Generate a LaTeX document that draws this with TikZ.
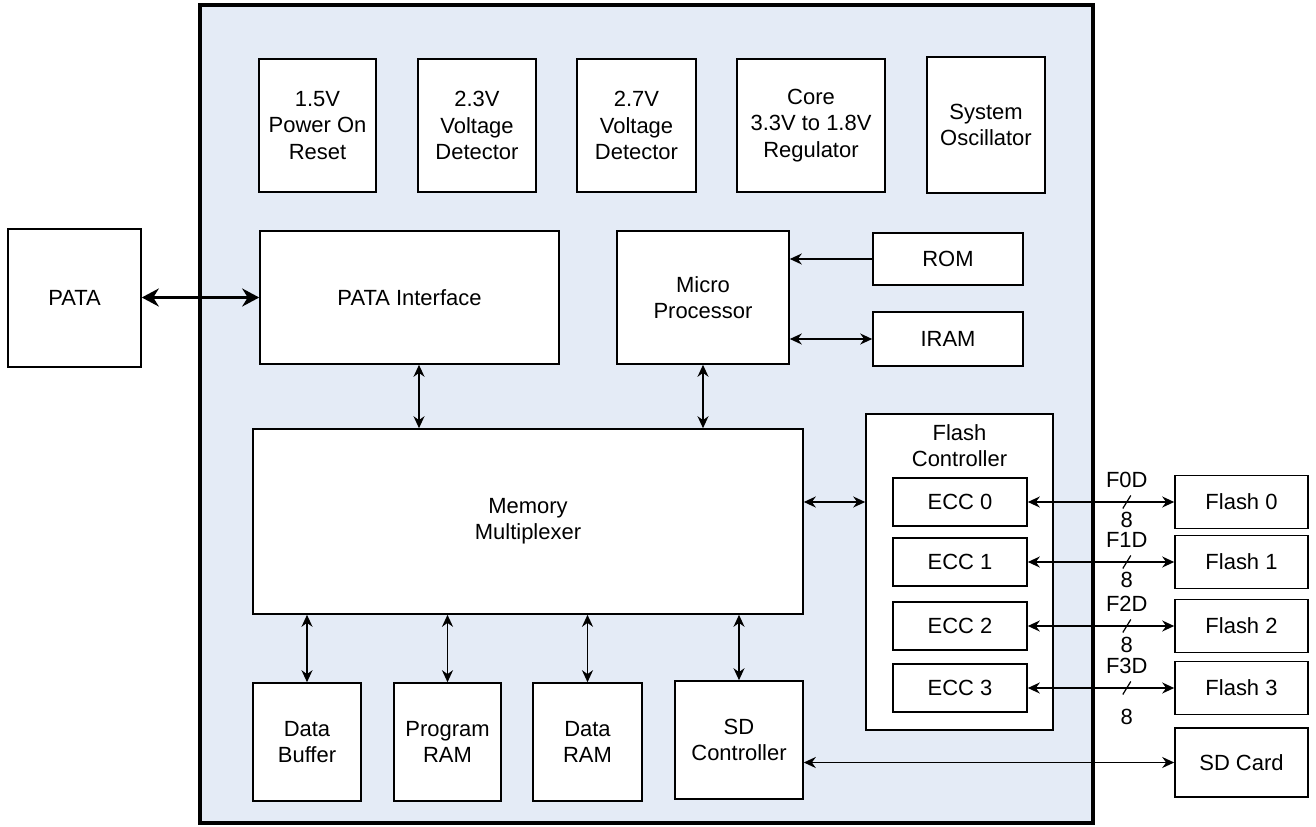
\documentclass[tikz,border=0pt]{standalone}
\usepackage{fontspec}
\setmainfont{Liberation Sans}
\usepackage{tikz}
\usetikzlibrary{arrows.meta,positioning,calc}
\usepackage{xcolor}
\definecolor{chipfill}{RGB}{228,235,246}
\tikzset{
  block/.style   = {draw, line width=0.9pt, fill=white, rectangle, inner sep=0pt,
                    align=center},
  tag/.style     = {inner sep=0pt, align=center},
  link/.style    = {{Stealth[length=2.4mm,width=2.2mm]}-{Stealth[length=2.4mm,width=2.2mm]},
                    line width=1pt},
  feed/.style    = {-{Stealth[length=2.4mm,width=2.2mm]}, line width=1pt},
  hostbus/.style = {{Stealth[length=3.4mm,width=3.6mm]}-{Stealth[length=3.4mm,width=3.6mm]},
                    line width=2pt},
}
\newcommand{\busmark}[4]{%
  \draw[line width=0.7pt] ($(#1)+(-0.08,-0.13)$) -- ($(#1)+(0.08,0.13)$);
  \node[tag] (#1-name) at ($(#1)+(0,0.44)$) {#2};
  \node[tag] (#1-width) at ($(#1)+(0,-#4)$) {#3};}

\begin{document}
\begin{tikzpicture}[x=1cm,y=1cm,font=\fontsize{12.5}{14.9}\selectfont]
\useasboundingbox (0,0) rectangle (26.32,-16.54);
\node[draw, line width=2.8pt, fill=chipfill, minimum width=17.86cm,
      minimum height=16.36cm] (chip) at (12.93,-8.28) {};
% power and clock row
\node[block, minimum width=2.34cm, minimum height=2.66cm] (POR) at (6.35,-2.51) {1.5V\\Power On\\Reset};
\node[block, minimum width=2.36cm, minimum height=2.66cm] (VD23) at (9.54,-2.51) {2.3V\\Voltage\\Detector};
\node[block, minimum width=2.38cm, minimum height=2.66cm] (VD27) at (12.73,-2.51) {2.7V\\Voltage\\Detector};
\node[block, minimum width=2.96cm, minimum height=2.66cm] (REG) at (16.22,-2.51) {Core\\3.3V to 1.8V\\Regulator};
\node[block, minimum width=2.36cm, minimum height=2.72cm] (OSC) at (19.72,-2.50) {System\\Oscillator};
% host side and processor
\node[block, minimum width=2.66cm, minimum height=2.76cm] (PATA) at (1.49,-5.96) {PATA};
\node[block, minimum width=5.98cm, minimum height=2.66cm] (PI) at (8.19,-5.95) {PATA Interface};
\node[block, minimum width=3.44cm, minimum height=2.66cm] (MCU) at (14.06,-5.95) {Micro\\Processor};
\node[block, minimum width=3.00cm, minimum height=1.04cm] (ROM) at (18.96,-5.18) {ROM};
\node[block, minimum width=3.00cm, minimum height=1.08cm] (IRAM) at (18.96,-6.78) {IRAM};
% memory
\node[block, minimum width=11.0cm, minimum height=3.7cm] (MUX) at (10.56,-10.43) {Memory\\Multiplexer};
\node[block, minimum width=2.16cm, minimum height=2.36cm] (DBUF) at (6.14,-14.84) {Data\\Buffer};
\node[block, minimum width=2.14cm, minimum height=2.36cm] (PRAM) at (8.95,-14.84) {Program\\RAM};
\node[block, minimum width=2.18cm, minimum height=2.36cm] (DRAM) at (11.75,-14.84) {Data\\RAM};
\node[block, minimum width=2.56cm, minimum height=2.36cm] (SDCTL) at (14.78,-14.80) {SD\\Controller};
% flash controller
\node[block, minimum width=3.74cm, minimum height=6.32cm] (FC) at (19.19,-11.44) {};
\node[tag, anchor=north] (FCtitle) at ([yshift=-0.22cm]FC.north) {Flash\\Controller};
\node[block, minimum width=2.68cm, minimum height=0.96cm] (ECC0) at (19.20,-10.04) {ECC 0};
\node[block, minimum width=2.68cm, minimum height=0.96cm] (ECC1) at (19.20,-11.24) {ECC 1};
\node[block, minimum width=2.68cm, minimum height=0.96cm] (ECC2) at (19.20,-12.52) {ECC 2};
\node[block, minimum width=2.68cm, minimum height=0.96cm] (ECC3) at (19.20,-13.76) {ECC 3};
% off-chip devices
\node[block, minimum width=2.66cm, minimum height=1.06cm] (FL0) at (24.83,-10.04) {Flash 0};
\node[block, minimum width=2.66cm, minimum height=1.06cm] (FL1) at (24.83,-11.24) {Flash 1};
\node[block, minimum width=2.66cm, minimum height=1.06cm] (FL2) at (24.83,-12.52) {Flash 2};
\node[block, minimum width=2.66cm, minimum height=1.06cm] (FL3) at (24.83,-13.76) {Flash 3};
\node[block, minimum width=2.66cm, minimum height=1.38cm] (SDC) at (24.83,-15.25) {SD Card};
% connections
\draw[hostbus] (PATA.east |- PI) -- (PI.west);
\draw[feed] (ROM.west) -- (ROM.west -| MCU.east);
\draw[link] (IRAM.west -| MCU.east) -- (IRAM.west);
\draw[link] ([xshift=0.19cm]PI.south) -- ([xshift=0.19cm]PI.south |- MUX.north);
\draw[link] (MCU.south) -- (MCU.south |- MUX.north);
\draw[link] (MUX.east |- ECC0) -- (FC.west |- ECC0);
\foreach \d in {DBUF,PRAM,DRAM,SDCTL}
  \draw[link] (\d.north |- MUX.south) -- (\d.north);
\draw[link] (SDCTL.east |- SDC) -- (SDC.west);
% flash buses
\draw[link] (ECC0.east) -- coordinate[pos=0.676] (b0) (FL0.west);
\draw[link] (ECC1.east) -- coordinate[pos=0.676] (b1) (FL1.west);
\draw[link] (ECC2.east) -- coordinate[pos=0.676] (b2) (FL2.west);
\draw[link] (ECC3.east) -- coordinate[pos=0.676] (b3) (FL3.west);
\busmark{b0}{F0D}{8}{0.36}
\busmark{b1}{F1D}{8}{0.36}
\busmark{b2}{F2D}{8}{0.38}
\busmark{b3}{F3D}{8}{0.58}
\end{tikzpicture}
\end{document}
